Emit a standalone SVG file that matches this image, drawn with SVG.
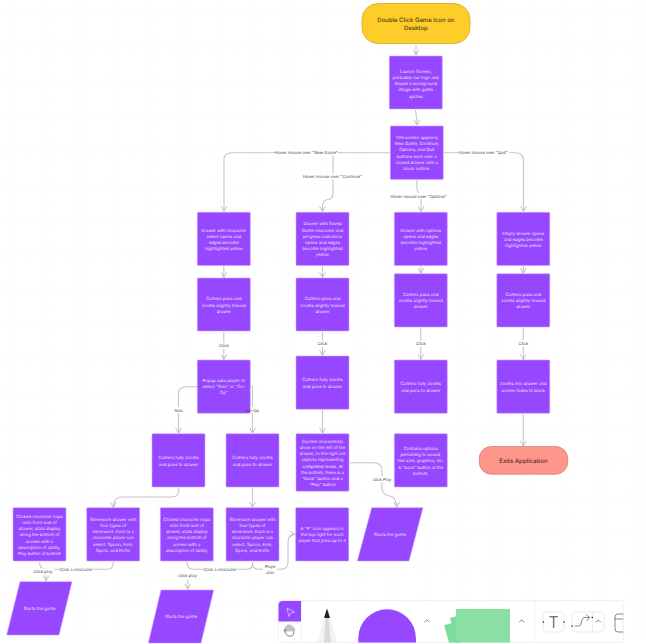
<svg xmlns="http://www.w3.org/2000/svg" width="646" height="644" viewBox="0 0 646 644">
<style>
text{font-family:Inter,"Liberation Sans",sans-serif;text-anchor:middle;text-rendering:geometricPrecision}
.n{fill:#9747ff;stroke:#c9a6ff;stroke-width:.6}
.t{font-size:4.3px;fill:#f1e6ff}
.l{font-size:4.2px;fill:#444}
.c{fill:none;stroke:#c6c6c6;stroke-width:1.1}
.lb{fill:#fff}
.i{fill:none;stroke:#555;stroke-width:.7;stroke-linecap:round;stroke-linejoin:round}
.b{fill:#fff;stroke:#e3e3e3;stroke-width:.7}
</style>
<defs>
<pattern id="dots" width="6.5" height="6.5" patternUnits="userSpaceOnUse"><circle cx="2" cy="2" r=".45" fill="#e6e6e6"/></pattern>
<marker id="a" viewBox="0 0 10 10" refX="9" refY="5" markerWidth="6.5" markerHeight="6.5" markerUnits="userSpaceOnUse" orient="auto"><path d="M1 .5L9 5L1 9.5" fill="none" stroke="#b8b8b8" stroke-width="1.4"/></marker>
</defs>
<rect width="646" height="644" fill="#fff"/>
<rect width="646" height="644" fill="url(#dots)"/>
<g id="connectors">
<path class="c" marker-end="url(#a)" d="M416 45V55"/>
<path class="c" marker-end="url(#a)" d="M415.500 110C416 115 417 117 417 125"/>
<path class="c" marker-end="url(#a)" d="M390 152.700H232Q224 152.700 224 160V211.500"/>
<path class="c" marker-end="url(#a)" d="M333 153V193Q333 199 328 199.500Q322.500 200 322.500 207V211.500"/>
<path class="c" marker-end="url(#a)" d="M417 180V190Q421 196 421 201V211.500"/>
<path class="c" marker-end="url(#a)" d="M444 152.700H515Q523.500 152.700 523.500 160V211.500"/>
<path class="c" marker-end="url(#a)" d="M223.800 266V277.500"/>
<path class="c" marker-end="url(#a)" d="M322.500 266V277.500"/>
<path class="c" marker-end="url(#a)" d="M420.800 266V273.200"/>
<path class="c" marker-end="url(#a)" d="M523.300 266V273.200"/>
<path class="c" marker-end="url(#a)" d="M223.800 332V359.500"/>
<path class="c" marker-end="url(#a)" d="M322.500 332V355.500"/>
<path class="c" marker-end="url(#a)" d="M420.800 328V359.500"/>
<path class="c" marker-end="url(#a)" d="M523.300 328V359.500"/>
<path class="c" marker-end="url(#a)" d="M197 386.700H186Q178.500 386.700 178.500 394V433"/>
<path class="c" marker-end="url(#a)" d="M250 386.700H252.500V433"/>
<path class="c" marker-end="url(#a)" d="M322.500 410V433"/>
<path class="c" marker-end="url(#a)" d="M523.300 414V446"/>
<path class="c" marker-end="url(#a)" d="M178.800 488V490Q178.800 497 172 497H122Q113.300 497 113.300 507.200"/>
<path class="c" marker-end="url(#a)" d="M252.500 488V507.200"/>
<path class="c" marker-end="url(#a)" d="M350 462.700H374Q382 462.700 382 471V488Q382 495 390 496Q396.700 498 396.700 507.200"/>
<path class="c" d="M113.300 562V563Q113.300 569.300 107 569.300H46Q39.500 569.300 39.500 562"/>
<path class="c" marker-end="url(#a)" d="M46 573V580.700"/>
<path class="c" d="M252.500 562V564Q252.500 569.300 246 569.300H193Q187 569.300 187 562"/>
<path class="c" marker-end="url(#a)" d="M187.700 580V589.300"/>
<path class="c" marker-end="url(#a)" d="M252.500 562V564Q253 569.300 259 569.300H281Q288 569.300 288 562V543Q288 534 295 534"/>
</g>
<g id="start"><rect x="362" y="3.500" width="108" height="40" rx="16" fill="#ffcd29" stroke="#d0a92a" stroke-width=".8"/><text x="415.800" y="21.600" font-size="6" font-weight="500" fill="#4a3f10">Double Click Game Icon on<tspan x="415.800" dy="8.300">Desktop</tspan></text></g>
<g id="launch"><rect class="n" x="389.300" y="56" width="53" height="53" rx=".8"/><text class="t" x="415.800" y="72.700">Launch Screen,<tspan x="415.800" dy="6.200">porbalbly our logo and</tspan><tspan x="415.800" dy="6.200">maybe a background</tspan><tspan x="415.800" dy="6.200">image with game</tspan><tspan x="415.800" dy="6.200">sprites</tspan></text></g>
<g id="title"><rect class="n" x="390.300" y="126" width="53" height="53.400" rx=".8"/><text class="t" x="416.800" y="139">Title screen appears;<tspan x="416.800" dy="6.200">New Game, Continue,</tspan><tspan x="416.800" dy="6.200">Options, and Quit</tspan><tspan x="416.800" dy="6.200">buttons each over a</tspan><tspan x="416.800" dy="6.200">closed drawer with a</tspan><tspan x="416.800" dy="6.200">black outline.</tspan></text></g>
<g id="drawer-new"><rect class="n" x="197.300" y="212.300" width="53" height="53.200" rx=".8"/><text class="t" x="223.800" y="231.700">Drawer with character<tspan x="223.800" dy="6.200">select opens and</tspan><tspan x="223.800" dy="6.200">edges become</tspan><tspan x="223.800" dy="6.200">hightlighted yellow</tspan></text></g>
<g id="drawer-continue"><rect class="n" x="296" y="212.300" width="53" height="53.200" rx=".8"/><text class="t" x="322.500" y="225.400">Drawer with Saved<tspan x="322.500" dy="6.200">Game character and</tspan><tspan x="322.500" dy="6.200">progress indicators</tspan><tspan x="322.500" dy="6.200">opens and edges</tspan><tspan x="322.500" dy="6.200">become highlighted</tspan><tspan x="322.500" dy="6.200">yellow</tspan></text></g>
<g id="drawer-options"><rect class="n" x="394.300" y="212.300" width="53" height="53.200" rx=".8"/><text class="t" x="420.800" y="231.700">Drawer with options<tspan x="420.800" dy="6.200">opens and edges</tspan><tspan x="420.800" dy="6.200">become highlighted</tspan><tspan x="420.800" dy="6.200">yellow</tspan></text></g>
<g id="drawer-quit"><rect class="n" x="496.800" y="212.300" width="53" height="53.200" rx=".8"/><text class="t" x="523.300" y="234.700">Empty drawer opens<tspan x="523.300" dy="6.200">and edges become</tspan><tspan x="523.300" dy="6.200">highlighted yellow</tspan></text></g>
<g id="pan-new"><rect class="n" x="197.300" y="278" width="53" height="53" rx=".8"/><text class="t" x="223.800" y="300.400">Camera pans and<tspan x="223.800" dy="6.200">zooms slightly toward</tspan><tspan x="223.800" dy="6.200">drawer</tspan></text></g>
<g id="pan-continue"><rect class="n" x="296" y="278" width="53" height="53" rx=".8"/><text class="t" x="322.500" y="300.400">Camera pans and<tspan x="322.500" dy="6.200">zooms slightly toward</tspan><tspan x="322.500" dy="6.200">drawer</tspan></text></g>
<g id="pan-options"><rect class="n" x="394.300" y="273.700" width="53" height="53.300" rx=".8"/><text class="t" x="420.800" y="296">Camera pans and<tspan x="420.800" dy="6.200">zooms slightly toward</tspan><tspan x="420.800" dy="6.200">drawer</tspan></text></g>
<g id="pan-quit"><rect class="n" x="496.800" y="273.700" width="53" height="53.300" rx=".8"/><text class="t" x="523.300" y="296">Camera pans and<tspan x="523.300" dy="6.200">zooms slightly toward</tspan><tspan x="523.300" dy="6.200">drawer</tspan></text></g>
<g id="popup"><rect class="n" x="197.300" y="360" width="53" height="53.300" rx=".8"/><text class="t" x="223.800" y="382">Popup asks player to<tspan x="223.800" dy="6.200">select "Solo" or "Co-</tspan><tspan x="223.800" dy="6.200">Op"</tspan></text></g>
<g id="zoom-continue"><rect class="n" x="296" y="356" width="53" height="53.300" rx=".8"/><text class="t" x="322.500" y="381.400">Camera fully zooms<tspan x="322.500" dy="6.200">and pans to drawer</tspan></text></g>
<g id="zoom-options"><rect class="n" x="394.300" y="360" width="53" height="53.300" rx=".8"/><text class="t" x="420.800" y="385.400">Camera fully zooms<tspan x="420.800" dy="6.200">and pans to drawer</tspan></text></g>
<g id="zoom-quit"><rect class="n" x="496.800" y="360" width="53" height="53.300" rx=".8"/><text class="t" x="523.300" y="385.400">Zooms into drawer and<tspan x="523.300" dy="6.200">screen fades to black</tspan></text></g>
<g id="zoom-solo"><rect class="n" x="152" y="433.700" width="53" height="53.300" rx=".8"/><text class="t" x="178.500" y="459.400">Camera fully zooms<tspan x="178.500" dy="6.200">and pans to drawer</tspan></text></g>
<g id="zoom-coop"><rect class="n" x="226" y="433.700" width="53" height="53.300" rx=".8"/><text class="t" x="252.500" y="459.400">Camera fully zooms<tspan x="252.500" dy="6.200">and pans to drawer</tspan></text></g>
<g id="current-character"><rect class="n" x="296" y="433.700" width="53" height="57.500" rx=".8"/><text class="t" x="322.500" y="442.700">Current character(s)<tspan x="322.500" dy="6.200">show on the left of the</tspan><tspan x="322.500" dy="6.200">drawer, to the right are</tspan><tspan x="322.500" dy="6.200">objects representing</tspan><tspan x="322.500" dy="6.200">completed levels. At</tspan><tspan x="322.500" dy="6.200">the bottom, there is a</tspan><tspan x="322.500" dy="6.200">"Back" button and a</tspan><tspan x="322.500" dy="6.200">"Play" button</tspan></text></g>
<g id="options-content"><rect class="n" x="394.300" y="433.700" width="53" height="53.300" rx=".8"/><text class="t" x="420.800" y="450">Contains options<tspan x="420.800" dy="6.200">pertaining to sound,</tspan><tspan x="420.800" dy="6.200">text size, graphics, etc.</tspan><tspan x="420.800" dy="6.200">A "back" button at the</tspan><tspan x="420.800" dy="6.200">bottom.</tspan></text></g>
<g id="exit"><rect x="479.300" y="446.500" width="88.400" height="27.700" rx="12" fill="#ff968c" stroke="#d87c74" stroke-width=".8"/><text x="523.500" y="463.100" font-size="6.100" font-weight="500" fill="#5a2a26">Exits Application</text></g>
<g id="clicked-solo"><rect class="n" x="13" y="507.700" width="53" height="53.300" rx=".8"/><text class="t" x="39.500" y="517.700">Clicked character hops<tspan x="39.500" dy="6.200">onto front wall of</tspan><tspan x="39.500" dy="6.200">drawer, stats display</tspan><tspan x="39.500" dy="6.200">along the bottom of</tspan><tspan x="39.500" dy="6.200">screen with a</tspan><tspan x="39.500" dy="6.200">description of ability.</tspan><tspan x="39.500" dy="6.200">Play button at bottom</tspan></text></g>
<g id="silverware-solo"><rect class="n" x="86.700" y="507.700" width="53" height="53.300" rx=".8"/><text class="t" x="113.200" y="520.700">Silverware drawer with<tspan x="113.200" dy="6.200">four types of</tspan><tspan x="113.200" dy="6.200">silverware. Each is a</tspan><tspan x="113.200" dy="6.200">character player can</tspan><tspan x="113.200" dy="6.200">select. Spoon, Fork,</tspan><tspan x="113.200" dy="6.200">Spork, and Knife.</tspan></text></g>
<g id="clicked-coop"><rect class="n" x="160.300" y="507.700" width="53" height="53.300" rx=".8"/><text class="t" x="186.800" y="520.700">Clicked character hops<tspan x="186.800" dy="6.200">onto front wall of</tspan><tspan x="186.800" dy="6.200">drawer, stats display</tspan><tspan x="186.800" dy="6.200">along the bottom of</tspan><tspan x="186.800" dy="6.200">screen with a</tspan><tspan x="186.800" dy="6.200">description of ability</tspan></text></g>
<g id="silverware-coop"><rect class="n" x="226" y="507.700" width="53" height="53.300" rx=".8"/><text class="t" x="252.500" y="520.700">Silverware drawer with<tspan x="252.500" dy="6.200">four types of</tspan><tspan x="252.500" dy="6.200">silverware. Each is a</tspan><tspan x="252.500" dy="6.200">character player can</tspan><tspan x="252.500" dy="6.200">select. Spoon, Fork,</tspan><tspan x="252.500" dy="6.200">Spork, and Knife.</tspan></text></g>
<g id="player-icon"><rect class="n" x="295.700" y="507.700" width="53" height="53.300" rx=".8"/><text class="t" x="322.200" y="530">A "P" icon appears in<tspan x="322.200" dy="6.200">the top right for each</tspan><tspan x="322.200" dy="6.200">player that joins up to 4</tspan></text></g>
<g id="start-game-1"><path class="n" d="M371.700 507.700H423L409 561H357.300Z"/><text class="t" x="390" y="536">Starts the game</text></g>
<g id="start-game-2"><path class="n" d="M20 581.700H72L59 635H6.700Z"/><text class="t" x="39.500" y="610">Starts the game</text></g>
<g id="start-game-3"><path class="n" d="M161 590H213.700L201 643H148.300Z"/><text class="t" x="181" y="618.400">Starts the game</text></g>
<g id="connector-labels">
<rect class="lb" x="275" y="149.700" width="62" height="6"/><text class="l" x="306.300" y="154.200">Hover mouse over "New Game"</text>
<rect class="lb" x="303" y="173.300" width="59" height="6"/><text class="l" x="332.500" y="177.800">Hover mouse over "Continue"</text>
<rect class="lb" x="390" y="193" width="57" height="6"/><text class="l" x="418.700" y="197.500">Hover mouse over "Options"</text>
<rect class="lb" x="458" y="149.700" width="51" height="6"/><text class="l" x="483.300" y="154.200">Hover mouse over "Quit"</text>
<rect class="lb" x="218" y="342.700" width="12" height="6"/><text class="l" x="223.800" y="347.200">Click</text>
<rect class="lb" x="316.500" y="340.700" width="12" height="6"/><text class="l" x="322.400" y="345.200">Click</text>
<rect class="lb" x="415" y="340.700" width="12" height="6"/><text class="l" x="420.800" y="345.200">Click</text>
<rect class="lb" x="517.500" y="340.700" width="12" height="6"/><text class="l" x="523.300" y="345.200">Click</text>
<rect class="lb" x="173" y="407" width="11" height="6"/><text class="l" x="178.500" y="411.500">Solo</text>
<rect class="lb" x="250.800" y="407" width="8" height="6"/><text class="l" x="252.500" y="411.500">Co-Op</text>
<rect class="lb" x="372" y="476" width="20" height="6"/><text class="l" x="382" y="480.500">click Play</text>
<rect class="lb" x="59" y="566.300" width="34" height="6"/><text class="l" x="76" y="570.800">Click a character</text>
<rect class="lb" x="32" y="568.500" width="22" height="6"/><text class="l" x="43" y="573">Click play</text>
<rect class="lb" x="203" y="566.300" width="34" height="6"/><text class="l" x="220" y="570.800">Click a character</text>
<rect class="lb" x="177" y="572.500" width="21" height="6"/><text class="l" x="187.500" y="577">click play</text>
<rect class="lb" x="263" y="563" width="14" height="12.400"/><text class="l" x="270" y="567.900">Playe<tspan x="270" dy="6.200">Join</tspan></text>
</g>
<g id="toolbar">
<path d="M623 600.700H283Q278.300 600.700 278.300 605V638Q278.300 642.500 283 642.500H623Z" fill="#fff" stroke="#e6e6e6" stroke-width=".7"/>
<path d="M301 601H283Q278.500 601 278.500 605V621.500H301Z" fill="#9747ff"/>
<path d="M287 608L294.500 612L290.800 613.300L289 616.500Z" fill="none" stroke="#e6d6ff" stroke-width=".7" stroke-linejoin="round"/>
<path class="i" d="M286 631V626.500M288 631V625M290 631V625M292 631V626M286 631Q285 628 284 630Q285.500 635 288 636H292Q294 635 294 631V628"/>
<line x1="301.500" y1="601" x2="301.500" y2="642.500" stroke="#ececec" stroke-width=".7"/>
<path d="M327 608.500L330 618H324Z" fill="#222"/>
<path d="M324 618H330L337.500 642.500H317.500Z" fill="#f3f3f3"/>
<path d="M325.500 618H328.500L331 642.500H324Z" fill="#d9d9d9"/>
<path d="M358.300 642.500V638A28.800 28.800 0 0 1 415.900 638V642.500Z" fill="#9747ff"/>
<path class="i" d="M424.500 622L426.800 619.800L429 622"/>
<path d="M444 625L453 623L459 642.500H449Z" fill="#7fdb9b"/>
<path d="M450 618L460 615V642.500H456Z" fill="#7fdb9b"/>
<rect x="456" y="609" width="54" height="33.500" fill="#8ae0a4"/>
<path class="i" d="M519.500 622L521.800 619.800L524 622"/>
<line x1="535" y1="601" x2="535" y2="642.500" stroke="#ececec" stroke-width=".7"/>
<rect class="b" x="543.300" y="612" width="20.700" height="20" rx="4"/>
<text x="553.700" y="627.800" font-size="16" font-weight="300" fill="#555">T</text>
<circle cx="543.300" cy="622" r=".8" fill="#222"/><circle cx="564" cy="622" r=".8" fill="#222"/>
<rect class="b" x="572" y="612" width="32" height="20" rx="4"/>
<line x1="592.300" y1="612" x2="592.300" y2="632" stroke="#e3e3e3" stroke-width=".7"/>
<path class="i" d="M575 626H579Q581 626 581.500 622Q582 617.500 585 617.500H589M586.500 615L589.500 617.500L587 620.500"/>
<circle cx="572" cy="626" r=".8" fill="#222"/><circle cx="592.300" cy="617.500" r=".8" fill="#222"/>
<path class="i" d="M596 622L598.300 619.800L600.500 622"/>
<path class="i" d="M623 614H618Q615 614 615 617V629Q615 632 618 632H623M615 619H623"/>
</g>
</svg>
